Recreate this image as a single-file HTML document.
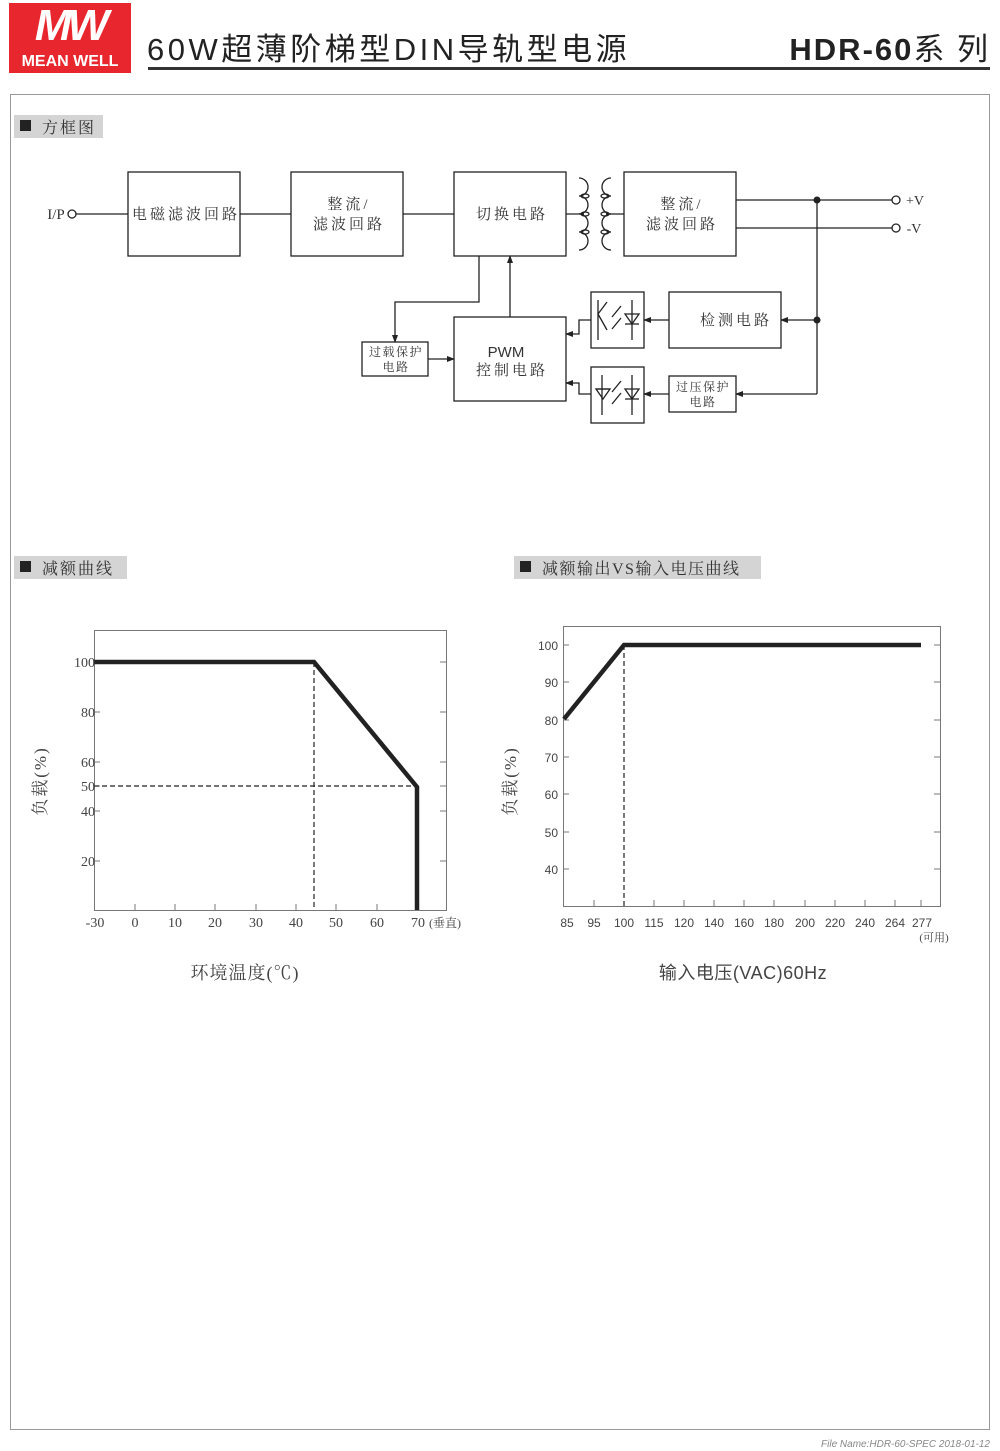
<!DOCTYPE html>
<html><head><meta charset="utf-8"><style>
html,body{margin:0;padding:0;background:#fff;}
svg{display:block;}
text{font-family:"Liberation Sans","Noto Sans CJK SC",sans-serif;}
.s{font-family:"Liberation Serif","Noto Serif CJK SC",serif;}
</style></head><body>
<svg width="1000" height="1451" viewBox="0 0 1000 1451" xmlns="http://www.w3.org/2000/svg">
<defs>
<marker id="a" markerWidth="8" markerHeight="6" refX="7" refY="3" orient="auto" markerUnits="userSpaceOnUse"><path d="M0,0 L8,3 L0,6z" fill="#222"/></marker>
</defs>
<!-- header -->
<rect x="9" y="3" width="122" height="70" fill="#e8262d"/>
<text x="70" y="40" font-size="44" font-style="italic" font-weight="bold" fill="#fff" text-anchor="middle" letter-spacing="-4">MW</text>
<text x="70" y="66" font-size="16" font-weight="bold" fill="#fff" text-anchor="middle">MEAN WELL</text>
<text x="147" y="60" font-size="31" fill="#222" letter-spacing="3.5">60W超薄阶梯型DIN导轨型电源</text>
<text x="990" y="60" font-size="31" fill="#222" text-anchor="end" letter-spacing="2"><tspan font-weight="bold">HDR-60</tspan>系 列</text>
<rect x="148" y="67" width="842" height="3" fill="#333"/>
<!-- outer frame -->
<rect x="10.5" y="94.5" width="979" height="1335" fill="none" stroke="#999" stroke-width="1"/>
<text x="990" y="1447" font-size="10" font-style="italic" fill="#888" text-anchor="end">File Name:HDR-60-SPEC  2018-01-12</text>
<!-- section labels -->
<rect x="14" y="115" width="89" height="23" fill="#d4d4d4"/>
<rect x="20" y="120" width="11" height="11" fill="#222"/>
<text x="42" y="133" font-size="16" fill="#333" class="s" letter-spacing="2">方框图</text>
<rect x="14" y="556" width="113" height="23" fill="#d4d4d4"/>
<rect x="20" y="561" width="11" height="11" fill="#222"/>
<text x="42" y="574" font-size="16" fill="#333" class="s" letter-spacing="2">减额曲线</text>
<rect x="514" y="556" width="247" height="23" fill="#d4d4d4"/>
<rect x="520" y="561" width="11" height="11" fill="#222"/>
<text x="542" y="574" font-size="16" fill="#333" class="s" letter-spacing="1.5">减额输出VS输入电压曲线</text>

<!-- block diagram -->
<g stroke="#222" stroke-width="1.3" fill="none">
<rect x="128" y="172" width="112" height="84"/>
<rect x="291" y="172" width="112" height="84"/>
<rect x="454" y="172" width="112" height="84"/>
<rect x="624" y="172" width="112" height="84"/>
<rect x="454" y="317" width="112" height="84"/>
<rect x="362" y="342" width="66" height="34"/>
<rect x="591" y="292" width="53" height="56"/>
<rect x="591" y="367" width="53" height="56"/>
<rect x="669" y="292" width="112" height="56"/>
<rect x="669" y="376" width="67" height="36"/>
<circle cx="72" cy="214" r="4"/>
<circle cx="896" cy="200" r="4"/>
<circle cx="896" cy="228" r="4"/>
<line x1="76" y1="214" x2="128" y2="214"/>
<line x1="240" y1="214" x2="291" y2="214"/>
<line x1="403" y1="214" x2="454" y2="214"/>
<line x1="566" y1="214" x2="584" y2="214"/>
<line x1="606" y1="214" x2="624" y2="214"/>
<!-- transformer coils -->
<path d="M579,178 a9,9 0 0 1 0,18 a9,9 0 0 1 0,18 a9,9 0 0 1 0,18 a9,9 0 0 1 0,18"/>
<path d="M611,178 a9,9 0 0 0 0,18 a9,9 0 0 0 0,18 a9,9 0 0 0 0,18 a9,9 0 0 0 0,18"/>
<ellipse cx="585" cy="196" rx="4" ry="2"/><ellipse cx="585" cy="214" rx="4" ry="2"/><ellipse cx="585" cy="232" rx="4" ry="2"/>
<ellipse cx="605" cy="196" rx="4" ry="2"/><ellipse cx="605" cy="214" rx="4" ry="2"/><ellipse cx="605" cy="232" rx="4" ry="2"/>
<line x1="736" y1="200" x2="892" y2="200"/>
<line x1="736" y1="228" x2="892" y2="228"/>
<line x1="817" y1="200" x2="817" y2="394"/>
<line x1="817" y1="320" x2="781" y2="320" marker-end="url(#a)"/>
<line x1="817" y1="394" x2="736" y2="394" marker-end="url(#a)"/>
<line x1="669" y1="320" x2="644" y2="320" marker-end="url(#a)"/>
<line x1="669" y1="394" x2="644" y2="394" marker-end="url(#a)"/>
<polyline points="591,320 579,320 579,334 566,334" marker-end="url(#a)"/>
<polyline points="591,394 579,394 579,383 566,383" marker-end="url(#a)"/>
<polyline points="479,256 479,302 395,302 395,342" marker-end="url(#a)"/>
<line x1="510" y1="317" x2="510" y2="256" marker-end="url(#a)"/>
<line x1="428" y1="359" x2="454" y2="359" marker-end="url(#a)"/>
<!-- opto details -->
<line x1="632" y1="300" x2="632" y2="340"/><path d="M625,314 h14 l-7,10z"/><line x1="625" y1="324" x2="639" y2="324"/>
<line x1="632" y1="375" x2="632" y2="415"/><path d="M625,389 h14 l-7,10z"/><line x1="625" y1="399" x2="639" y2="399"/>
<line x1="598" y1="300" x2="598" y2="340"/><polyline points="607,302 598,314 607,330"/>
<line x1="602" y1="375" x2="602" y2="415"/><path d="M596,389 h14 l-7,10z"/><line x1="596" y1="389" x2="610" y2="389"/>
<line x1="621" y1="306" x2="612" y2="317"/><line x1="621" y1="318" x2="612" y2="329"/>
<line x1="621" y1="381" x2="612" y2="392"/><line x1="621" y1="393" x2="612" y2="404"/>
</g>
<g fill="#222">
<circle cx="817" cy="200" r="3.5"/><circle cx="817" cy="320" r="3.5"/>
</g>
<g class="s" font-size="15" fill="#333" text-anchor="middle" letter-spacing="3">
<text x="186" y="219" class="s">电磁滤波回路</text>
<text x="349" y="209" class="s">整流/</text><text x="349" y="229" class="s">滤波回路</text>
<text x="512" y="219" class="s">切换电路</text>
<text x="682" y="209" class="s">整流/</text><text x="682" y="229" class="s">滤波回路</text>
<text x="736" y="325" class="s">检测电路</text>
<text x="506" y="357" font-size="15" font-family="Liberation Sans" letter-spacing="0">PWM</text>
<text x="512" y="375" class="s">控制电路</text>
<text x="396" y="356" font-size="12" class="s" letter-spacing="1.5">过载保护</text><text x="396" y="371" font-size="12" class="s" letter-spacing="1.5">电路</text>
<text x="703" y="391" font-size="12" class="s" letter-spacing="1.5">过压保护</text><text x="703" y="406" font-size="12" class="s" letter-spacing="1.5">电路</text>
<text x="56" y="219" class="s" letter-spacing="0">I/P</text>
<text x="915" y="205" font-size="14" class="s" letter-spacing="0">+V</text>
<text x="914" y="233" font-size="14" class="s" letter-spacing="0">-V</text>
</g>

<!-- chart 1 -->
<rect x="94.5" y="630.5" width="352" height="280" fill="none" stroke="#777"/>
<g stroke="#777" stroke-width="1">
<line x1="94" y1="662" x2="100" y2="662"/><line x1="94" y1="712" x2="100" y2="712"/><line x1="94" y1="762" x2="100" y2="762"/><line x1="94" y1="786" x2="100" y2="786"/><line x1="94" y1="811" x2="100" y2="811"/><line x1="94" y1="861" x2="100" y2="861"/>
<line x1="440" y1="662" x2="446" y2="662"/><line x1="440" y1="712" x2="446" y2="712"/><line x1="440" y1="762" x2="446" y2="762"/><line x1="440" y1="786" x2="446" y2="786"/><line x1="440" y1="811" x2="446" y2="811"/><line x1="440" y1="861" x2="446" y2="861"/>
<line x1="135" y1="904" x2="135" y2="910"/><line x1="175" y1="904" x2="175" y2="910"/><line x1="215" y1="904" x2="215" y2="910"/><line x1="256" y1="904" x2="256" y2="910"/><line x1="296" y1="904" x2="296" y2="910"/><line x1="336" y1="904" x2="336" y2="910"/><line x1="377" y1="904" x2="377" y2="910"/>
</g>
<g stroke="#222" stroke-width="1.2" stroke-dasharray="5,3" fill="none">
<line x1="314" y1="662" x2="314" y2="910"/><line x1="94" y1="786" x2="417" y2="786"/>
</g>
<polyline points="94,662 314,662 417,787 417,910" fill="none" stroke="#222" stroke-width="4.5"/>
<g class="s" font-size="14" fill="#444" text-anchor="end">
<text x="95" y="667" class="s">100</text><text x="95" y="717" class="s">80</text><text x="95" y="767" class="s">60</text><text x="95" y="791" class="s">50</text><text x="95" y="816" class="s">40</text><text x="95" y="866" class="s">20</text>
</g>
<g class="s" font-size="14" fill="#444" text-anchor="middle">
<text x="95" y="927" class="s">-30</text><text x="135" y="927" class="s">0</text><text x="175" y="927" class="s">10</text><text x="215" y="927" class="s">20</text><text x="256" y="927" class="s">30</text><text x="296" y="927" class="s">40</text><text x="336" y="927" class="s">50</text><text x="377" y="927" class="s">60</text><text x="418" y="927" class="s">70</text>
<text x="445" y="927" font-size="12" class="s">(垂直)</text>
<text x="245" y="979" font-size="18" class="s" letter-spacing="1">环境温度(℃)</text>
<text transform="translate(46,781) rotate(-90)" font-size="17" class="s" letter-spacing="2">负载(%)</text>
</g>

<!-- chart 2 -->
<rect x="563.5" y="626.5" width="377" height="280" fill="none" stroke="#777"/>
<g stroke="#777" stroke-width="1">
<line x1="563" y1="645" x2="569" y2="645"/><line x1="563" y1="682" x2="569" y2="682"/><line x1="563" y1="720" x2="569" y2="720"/><line x1="563" y1="757" x2="569" y2="757"/><line x1="563" y1="794" x2="569" y2="794"/><line x1="563" y1="832" x2="569" y2="832"/><line x1="563" y1="869" x2="569" y2="869"/>
<line x1="934" y1="645" x2="940" y2="645"/><line x1="934" y1="682" x2="940" y2="682"/><line x1="934" y1="720" x2="940" y2="720"/><line x1="934" y1="757" x2="940" y2="757"/><line x1="934" y1="794" x2="940" y2="794"/><line x1="934" y1="832" x2="940" y2="832"/><line x1="934" y1="869" x2="940" y2="869"/>
<line x1="594" y1="900" x2="594" y2="906"/><line x1="654" y1="900" x2="654" y2="906"/><line x1="684" y1="900" x2="684" y2="906"/><line x1="714" y1="900" x2="714" y2="906"/><line x1="744" y1="900" x2="744" y2="906"/><line x1="774" y1="900" x2="774" y2="906"/><line x1="805" y1="900" x2="805" y2="906"/><line x1="835" y1="900" x2="835" y2="906"/><line x1="865" y1="900" x2="865" y2="906"/><line x1="895" y1="900" x2="895" y2="906"/><line x1="921" y1="900" x2="921" y2="906"/>
</g>
<line x1="624" y1="645" x2="624" y2="906" stroke="#222" stroke-width="1.2" stroke-dasharray="5,3"/>
<polyline points="564,719 624,645 921,645" fill="none" stroke="#222" stroke-width="4.5"/>
<g font-size="12" fill="#444" text-anchor="end">
<text x="558" y="650">100</text><text x="558" y="687">90</text><text x="558" y="725">80</text><text x="558" y="762">70</text><text x="558" y="799">60</text><text x="558" y="837">50</text><text x="558" y="874">40</text>
</g>
<g font-size="12" fill="#444" text-anchor="middle">
<text x="567" y="927">85</text><text x="594" y="927">95</text><text x="624" y="927">100</text><text x="654" y="927">115</text><text x="684" y="927">120</text><text x="714" y="927">140</text><text x="744" y="927">160</text><text x="774" y="927">180</text><text x="805" y="927">200</text><text x="835" y="927">220</text><text x="865" y="927">240</text><text x="895" y="927">264</text><text x="922" y="927">277</text>
<text x="934" y="941" font-size="11" class="s">(可用)</text>
<text x="743" y="979" font-size="18" letter-spacing="0.5">输入电压(VAC)60Hz</text>
<text transform="translate(516,781) rotate(-90)" font-size="17" class="s" letter-spacing="2">负载(%)</text>
</g>
</svg>
</body></html>
